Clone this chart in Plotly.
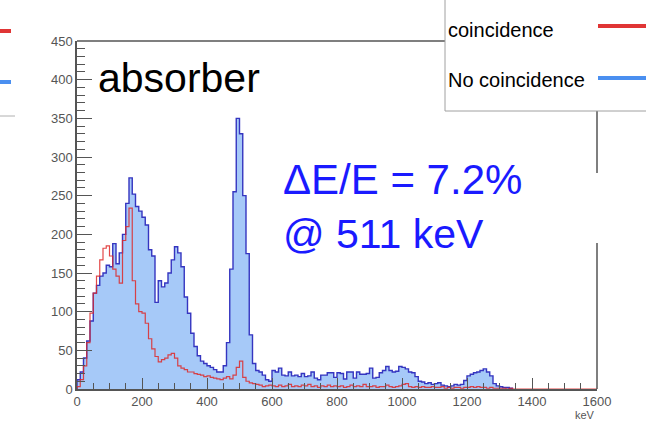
import numpy as np
import plotly.graph_objects as go

# Energy spectra of the absorber, 10 keV bins starting at 0 keV
BIN_KEV = 10

no_coincidence = [
    12, 22, 40, 62, 88, 124, 134, 146, 150, 160,
    158, 188, 162, 176, 200, 240, 273, 252, 236, 230,
    222, 212, 180, 172, 112, 140, 132, 137, 150, 167,
    184, 176, 158, 119, 98, 72, 55, 43, 36, 33,
    30, 28, 25, 22, 22, 30, 60, 155, 255, 350,
    330, 250, 175, 70, 33, 24, 22, 18, 12, 10,
    24, 22, 27, 18, 17, 22, 17, 18, 16, 20,
    16, 17, 22, 14, 12, 18, 18, 21, 21, 15,
    21, 20, 13, 22, 22, 14, 22, 19, 19, 20,
    27, 14, 15, 21, 24, 29, 24, 22, 23, 29,
    28, 26, 22, 21, 16, 10, 9, 7, 8, 6,
    7, 8, 5, 4, 3, 4, 6, 5, 6, 11,
    17, 19, 21, 22, 24, 26, 22, 17, 7, 4,
    3, 2, 2, 1,
]

coincidence = [
    3, 12, 30, 60, 98, 124, 146, 167, 182, 185,
    172, 155, 146, 137, 192, 210, 234, 140, 110, 100,
    98, 85, 65, 52, 42, 35, 38, 40, 44, 46,
    40, 30, 27, 25, 22, 22, 20, 19, 18, 16,
    17, 15, 14, 13, 12, 14, 16, 13, 18, 28,
    36, 15, 10, 8, 7, 6, 5, 3, 4, 5,
    4, 3, 5, 3, 4, 6, 3, 4, 3, 5,
    4, 6, 3, 4, 2, 4, 3, 5, 3, 4,
    3, 4, 2, 3, 5, 3, 4, 3, 6, 3,
    3, 4, 2, 3, 3, 5, 3, 2, 3, 4,
    6, 7, 3, 2, 3, 2, 3, 2, 2, 3,
    2, 2, 3, 1, 2, 1, 2, 2, 1, 2,
    2, 3, 2, 3, 2, 2, 1, 2, 1, 1,
    1, 1, 0, 1, 0, 0, 0, 0, 0, 0,
    0, 0, 0, 0, 0, 0, 0, 0, 0, 0,
    0, 0, 0, 0, 0, 0, 0, 0, 0, 0,
]

x_ticks = [0, 200, 400, 600, 800, 1000, 1200, 1400, 1600]
y_ticks = [0, 50, 100, 150, 200, 250, 300, 350, 400, 450]

W, H = 646, 432
FONT = "Liberation Sans, Arial, sans-serif"


def step_xy(counts, width):
    """Outline of a histogram drawn as steps, closed down to zero at both ends."""
    edges = np.arange(len(counts) + 1) * width
    x = np.concatenate([[0], edges])
    y = np.concatenate([[0], counts, [0]])
    return x, y


def px(xpix):
    return xpix / W


def py(ypix):
    return 1 - ypix / H


fig = go.Figure()

xb, yb = step_xy(no_coincidence, BIN_KEV)
fig.add_trace(go.Scatter(
    x=xb, y=yb, mode="lines", line_shape="hv",
    line=dict(color="#3535c0", width=1.4),
    fill="tozeroy", fillcolor="#a6c9f8",
    name="No coincidence", showlegend=False,
))

xr, yr = step_xy(coincidence, BIN_KEV)
fig.add_trace(go.Scatter(
    x=xr, y=yr, mode="lines", line_shape="hv",
    line=dict(color="rgba(222,40,40,0.85)", width=1.2),
    name="coincidence", showlegend=False,
))

axis_common = dict(
    showline=True, linecolor="#555555", linewidth=1.5,
    ticks="inside", tickcolor="#555555", tickwidth=1,
    showgrid=False, zeroline=False, automargin=False,
    tickfont=dict(family=FONT, size=13, color="#555555"),
)

fig.update_layout(
    width=W, height=H,
    margin=dict(l=0, r=0, t=0, b=0, pad=0),
    paper_bgcolor="white", plot_bgcolor="white",
    showlegend=False,
    xaxis=dict(
        domain=[px(77), px(597)], range=[0, 1600],
        tickvals=x_ticks, ticklen=11,
        minor=dict(dtick=50, tick0=0, ticks="inside", ticklen=6,
                   tickcolor="#555555", tickwidth=1),
        **axis_common,
    ),
    yaxis=dict(
        domain=[py(389), py(41)], range=[0, 450],
        tickvals=y_ticks, ticklen=15,
        minor=dict(dtick=10, tick0=0, ticks="inside", ticklen=8,
                   tickcolor="#555555", tickwidth=1),
        **axis_common,
    ),
)

shapes = []
# frame: top edge up to the legend box, right edge interrupted
shapes.append(dict(type="line", xref="paper", yref="paper",
                   x0=px(77), x1=px(445), y0=py(41), y1=py(41),
                   line=dict(color="#555555", width=1.5)))
shapes.append(dict(type="line", xref="paper", yref="paper",
                   x0=px(597), x1=px(597), y0=py(111), y1=py(173),
                   line=dict(color="#555555", width=1.5)))
shapes.append(dict(type="line", xref="paper", yref="paper",
                   x0=px(597), x1=px(597), y0=py(243), y1=py(389),
                   line=dict(color="#555555", width=1.5)))
# legend box borders
shapes.append(dict(type="line", xref="paper", yref="paper",
                   x0=px(445), x1=px(445), y0=py(0), y1=py(111),
                   line=dict(color="#a0a0a0", width=1)))
shapes.append(dict(type="line", xref="paper", yref="paper",
                   x0=px(445), x1=px(646), y0=py(111), y1=py(111),
                   line=dict(color="#a0a0a0", width=1)))
# legend samples
shapes.append(dict(type="line", xref="paper", yref="paper",
                   x0=px(598), x1=px(646), y0=py(26), y1=py(26),
                   line=dict(color="#e03535", width=4)))
shapes.append(dict(type="line", xref="paper", yref="paper",
                   x0=px(598), x1=px(646), y0=py(78), y1=py(78),
                   line=dict(color="#4a8ff0", width=4)))
# second legend box at the left edge
shapes.append(dict(type="line", xref="paper", yref="paper",
                   x0=px(0), x1=px(11), y0=py(31), y1=py(31),
                   line=dict(color="#e03535", width=4)))
shapes.append(dict(type="line", xref="paper", yref="paper",
                   x0=px(0), x1=px(11), y0=py(82), y1=py(82),
                   line=dict(color="#4a8ff0", width=4)))
shapes.append(dict(type="line", xref="paper", yref="paper",
                   x0=px(0), x1=px(15), y0=py(116), y1=py(116),
                   line=dict(color="#b0b0b0", width=1)))
fig.update_layout(shapes=shapes)

annotations = [
    dict(text="absorber", x=px(96), y=py(78), xanchor="left", yanchor="middle",
         font=dict(family=FONT, size=41, color="black")),
    dict(text="ΔE/E = 7.2%", x=px(281), y=py(179), xanchor="left", yanchor="middle",
         font=dict(family=FONT, size=42, color="#1a1aff")),
    dict(text="@ 511 keV", x=px(281), y=py(234), xanchor="left", yanchor="middle",
         font=dict(family=FONT, size=41, color="#1a1aff")),
    dict(text="coincidence", x=px(446), y=py(30), xanchor="left", yanchor="middle",
         font=dict(family=FONT, size=20, color="black")),
    dict(text="No coincidence", x=px(446), y=py(80), xanchor="left", yanchor="middle",
         font=dict(family=FONT, size=20, color="black")),
    dict(text="keV", x=px(597), y=py(415), xanchor="right", yanchor="middle",
         font=dict(family=FONT, size=11, color="#555555")),
]
for a in annotations:
    a.update(xref="paper", yref="paper", showarrow=False)
fig.update_layout(annotations=annotations)

# keep the page exactly the size of the figure
page_css = ("document.body.style.margin='0';"
            "document.body.style.padding='0';"
            "document.body.style.overflow='hidden';")
fig.write_html("out.html", post_script=page_css)
